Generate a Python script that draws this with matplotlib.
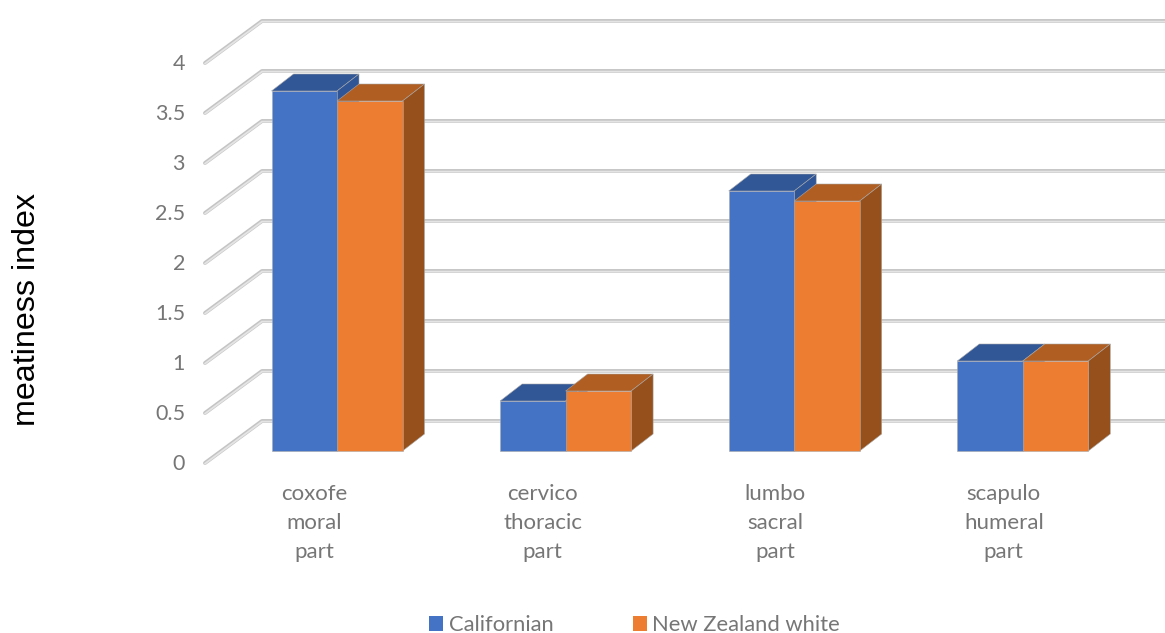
import matplotlib
matplotlib.use('Agg')
import matplotlib.pyplot as plt
from matplotlib.patches import Polygon, Patch

categories = ['coxofe\nmoral\npart', 'cervico\nthoracic\npart', 'lumbo\nsacral\npart', 'scapulo\nhumeral\npart']
californian = [3.6, 0.5, 2.6, 0.9]
new_zealand = [3.5, 0.6, 2.5, 0.9]
y_ticks = [0, 0.5, 1, 1.5, 2, 2.5, 3, 3.5, 4]
y_tick_labels = ['0', '0.5', '1', '1.5', '2', '2.5', '3', '3.5', '4']

W, H = 1165, 633
X0, STEP = 337, 228.6   # pixel of first category boundary, pixels per category
Y0, UNIT = 451, 100     # pixel of value 0, pixels per unit
BAR = 65.5 / STEP
DX, DY = 22 / STEP, 17 / UNIT  # bar depth
TEXT = '#767676'
LABEL_SHIFT = [-23, -23, -19, -19]  # labels sit left of the bar pair, not evenly

fig = plt.figure(figsize=(W / 100, H / 100), dpi=100)
ax = fig.add_axes([0, 0, 1, 1])
ax.set_xlim(-X0 / STEP, (W - X0) / STEP)
ax.set_ylim((Y0 - H) / UNIT, Y0 / UNIT)
ax.axis('off')


def box(x, v, front, top, side):
    w = x + BAR
    ax.add_patch(Polygon([(x, v), (x + DX, v + DY), (w + DX, v + DY), (w, v)], fc=top, ec='#a8a8a8', lw=0.4, zorder=3))
    ax.add_patch(Polygon([(w, 0), (w + DX, DY), (w + DX, v + DY), (w, v)], fc=side, ec='#a8a8a8', lw=0.4, zorder=3))
    ax.add_patch(Polygon([(x, 0), (w, 0), (w, v), (x, v)], fc=front, ec='#a8a8a8', lw=0.4, zorder=3))


# floor and wall grid lines
for v in y_ticks:
    xs = [(205 - X0) / STEP, (262 - X0) / STEP, (W - X0) / STEP]
    ys = [v - 0.12, v + 0.30, v + 0.30]
    ax.plot(xs, ys, color='#c4c4c4', lw=2.8, solid_capstyle='round', zorder=1)
    ax.plot(xs, [y - 0.006 for y in ys], color='#e4e4e4', lw=1.3, solid_capstyle='round', zorder=1.5)
    ax.text((185 - X0) / STEP, v - 0.13, y_tick_labels[y_ticks.index(v)], ha='right', va='center',
            fontsize=15.5, color=TEXT, family='Lato')

for i, cat in enumerate(categories):
    box(i - BAR, californian[i], '#4472C4', '#325797', '#2F5597')
    box(i, new_zealand[i], '#ED7D31', '#B15E22', '#96501C')
    ax.text(i + LABEL_SHIFT[i] / STEP, (Y0 - 523) / UNIT, cat, ha='center', va='center', fontsize=16,
            color=TEXT, family='Lato', linespacing=1.58)

ax.text((27 - X0) / STEP, (Y0 - 310) / UNIT, 'meatiness index', rotation=90, ha='center', va='center',
        fontsize=23.2, color='black', family='Liberation Sans')

handles = [Patch(fc='#4472C4', label='Californian'), Patch(fc='#ED7D31', label='New Zealand white')]
ax.legend(handles=handles, ncol=2, loc='center', bbox_to_anchor=(634.5 / W, 1 - 625 / H), frameon=False,
          prop={'family': 'Lato', 'size': 15.8}, labelcolor=TEXT, handlelength=0.65, handleheight=0.65,
          handletextpad=0.25, columnspacing=3.6, borderpad=0, borderaxespad=0)

fig.savefig('out.png', dpi=100)
